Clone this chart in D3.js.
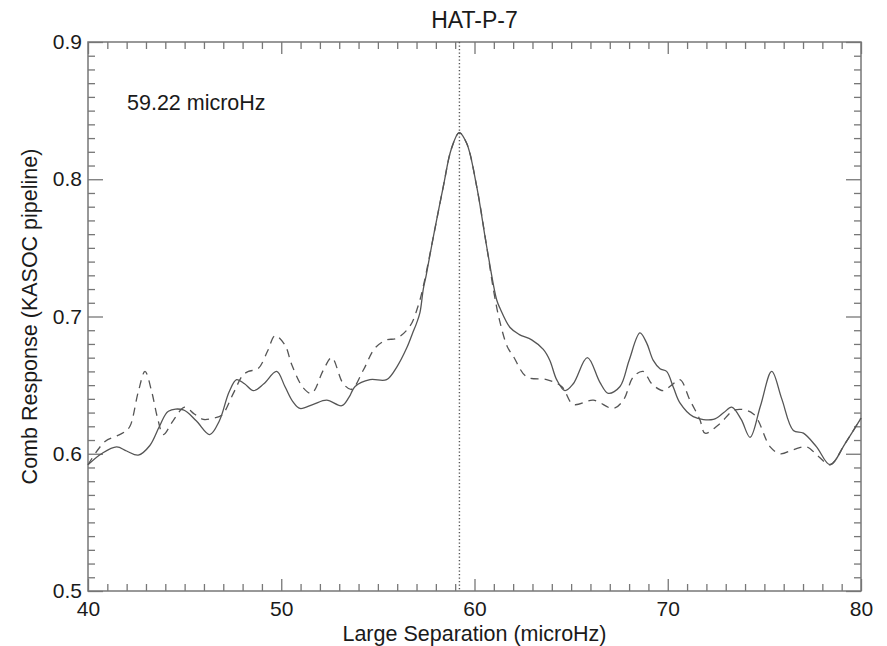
<!DOCTYPE html>
<html>
<head>
<meta charset="utf-8">
<script src="https://cdn.jsdelivr.net/npm/d3@7"></script>
<style>
  html, body { margin: 0; padding: 0; background: #fff; }
  svg { display: block; font-family: "Liberation Sans", Arial, sans-serif; }
</style>
</head>
<body>
<svg id="chart" width="887" height="646"></svg>
<script>
// Comb response vs. trial large separation, two pipeline variants
const solidX = [40, 40.7, 41.48, 42.0, 42.6, 43.2, 43.7, 44.16, 44.93, 45.6, 46.3, 46.8, 47.3, 47.69, 48.1, 48.56, 49.1, 49.76, 50.19, 50.6, 50.97, 51.66, 52.35, 53.13, 53.5, 53.82, 54.59, 55.45, 55.97, 56.49, 56.8, 57.0, 57.18, 57.35, 57.5, 57.87, 58.39, 58.8, 59.21, 59.6, 60.11, 60.63, 61.15, 61.32, 61.84, 62.3, 62.96, 63.56, 63.9, 64.25, 64.68, 65.11, 65.84, 66.49, 66.92, 67.53, 68.0, 68.56, 68.9, 69.25, 69.6, 69.94, 70.3, 70.63, 71.32, 72.36, 72.9, 73.31, 73.8, 74.26, 74.8, 75.38, 75.9, 76.5, 77.02, 77.7, 78.4, 79.2, 80];
const solidY = [0.592, 0.600, 0.605, 0.602, 0.599, 0.606, 0.620, 0.631, 0.632, 0.624, 0.614, 0.624, 0.645, 0.654, 0.651, 0.646, 0.651, 0.660, 0.649, 0.638, 0.633, 0.636, 0.639, 0.635, 0.641, 0.649, 0.654, 0.654, 0.663, 0.677, 0.688, 0.695, 0.703, 0.720, 0.730, 0.758, 0.795, 0.822, 0.834, 0.826, 0.795, 0.751, 0.712, 0.706, 0.692, 0.687, 0.683, 0.676, 0.668, 0.654, 0.646, 0.651, 0.670, 0.652, 0.644, 0.649, 0.668, 0.688, 0.681, 0.668, 0.662, 0.660, 0.648, 0.637, 0.627, 0.625, 0.630, 0.634, 0.625, 0.612, 0.635, 0.660, 0.640, 0.617, 0.615, 0.605, 0.592, 0.608, 0.626];

const dashX = [40, 40.88, 41.5, 41.9, 42.17, 42.6, 42.95, 43.3, 43.6, 43.9, 44.4, 45.0, 45.5, 45.97, 46.5, 46.92, 47.52, 48.0, 48.3, 48.8, 49.3, 49.68, 50.2, 50.54, 51.14, 51.57, 52.18, 52.61, 53.21, 53.64, 54.25, 54.85, 55.45, 55.97, 56.66, 57.09, 57.35, 57.87, 58.39, 58.8, 59.21, 59.6, 60.11, 60.63, 61.0, 61.3, 61.7, 62.01, 62.7, 63.73, 64.51, 65.11, 66.15, 67.18, 67.7, 68.22, 68.73, 69.17, 69.77, 70.2, 70.63, 71.15, 71.66, 71.93, 72.7, 73.48, 74.43, 75.3, 75.82, 76.5, 77.19, 77.8, 78.4, 79.2, 80];
const dashY = [0.592, 0.609, 0.613, 0.616, 0.620, 0.645, 0.660, 0.645, 0.626, 0.614, 0.624, 0.634, 0.629, 0.625, 0.626, 0.628, 0.644, 0.657, 0.660, 0.662, 0.675, 0.686, 0.679, 0.665, 0.648, 0.644, 0.661, 0.670, 0.651, 0.647, 0.661, 0.677, 0.683, 0.684, 0.693, 0.708, 0.722, 0.758, 0.795, 0.822, 0.834, 0.826, 0.795, 0.751, 0.718, 0.697, 0.678, 0.671, 0.656, 0.654, 0.649, 0.636, 0.639, 0.633, 0.639, 0.656, 0.660, 0.651, 0.646, 0.650, 0.654, 0.639, 0.625, 0.615, 0.622, 0.632, 0.629, 0.605, 0.600, 0.603, 0.605, 0.598, 0.592, 0.608, 0.626];

const bestSeparation = 59.22;
const xMajorTicks = [40, 50, 60, 70, 80];
const yMajorTicks = [0.5, 0.6, 0.7, 0.8, 0.9];
const titleText = "HAT-P-7";
const xLabel = "Large Separation (microHz)";
const yLabel = "Comb Response (KASOC pipeline)";

const svg = d3.select("#chart");
const plotLeft = 88, plotTop = 42, plotRight = 861, plotBottom = 591;

const x = d3.scaleLinear().domain([40, 80]).range([plotLeft, plotRight]);
const y = d3.scaleLinear().domain([0.5, 0.9]).range([plotBottom, plotTop]);

const frameColor = "#777";
const lineColor = "#555";
const textColor = "#1a1a1a";
const fontSize = 21;

const xMinor = d3.range(41, 80, 1).filter(v => v % 10 !== 0);
const yMinor = d3.range(51, 90, 1).map(v => v / 100).filter(v => Math.round(v * 100) % 10 !== 0);

function styleAxis(g) {
  g.select(".domain").remove();
  g.selectAll(".tick line").attr("stroke", frameColor).attr("stroke-width", 1.3);
  g.selectAll(".tick text").attr("fill", textColor).style("font-size", fontSize + "px")
    .style("font-family", '"Liberation Sans", Arial, sans-serif');
}

// bottom axis: labelled major ticks pointing inward
svg.append("g").attr("transform", `translate(0,${plotBottom})`)
  .call(d3.axisBottom(x).tickValues(xMajorTicks).tickSize(-12).tickPadding(10).tickFormat(d3.format("d")))
  .call(styleAxis);
svg.append("g").attr("transform", `translate(0,${plotBottom})`)
  .call(d3.axisBottom(x).tickValues(xMinor).tickSize(-7).tickFormat(""))
  .call(styleAxis);

// top axis: ticks only
svg.append("g").attr("transform", `translate(0,${plotTop})`)
  .call(d3.axisTop(x).tickValues(xMajorTicks).tickSize(-12).tickFormat(""))
  .call(styleAxis);
svg.append("g").attr("transform", `translate(0,${plotTop})`)
  .call(d3.axisTop(x).tickValues(xMinor).tickSize(-7).tickFormat(""))
  .call(styleAxis);

// left axis
svg.append("g").attr("transform", `translate(${plotLeft},0)`)
  .call(d3.axisLeft(y).tickValues(yMajorTicks).tickSize(-15).tickPadding(6).tickFormat(d3.format(".1f")))
  .call(styleAxis);
svg.append("g").attr("transform", `translate(${plotLeft},0)`)
  .call(d3.axisLeft(y).tickValues(yMinor).tickSize(-7).tickFormat(""))
  .call(styleAxis);

// right axis
svg.append("g").attr("transform", `translate(${plotRight},0)`)
  .call(d3.axisRight(y).tickValues(yMajorTicks).tickSize(-15).tickFormat(""))
  .call(styleAxis);
svg.append("g").attr("transform", `translate(${plotRight},0)`)
  .call(d3.axisRight(y).tickValues(yMinor).tickSize(-7).tickFormat(""))
  .call(styleAxis);

// plot frame
svg.append("rect")
  .attr("x", plotLeft).attr("y", plotTop)
  .attr("width", plotRight - plotLeft).attr("height", plotBottom - plotTop)
  .attr("fill", "none").attr("stroke", frameColor).attr("stroke-width", 1.5);

const line = d3.line()
  .x(d => x(d[0])).y(d => y(d[1]))
  .curve(d3.curveCatmullRom.alpha(0.5));

const dashed = d3.zip(dashX, dashY);
const solid = d3.zip(solidX, solidY);

svg.append("path").datum(dashed)
  .attr("d", line).attr("fill", "none")
  .attr("stroke", lineColor).attr("stroke-width", 1.3)
  .attr("stroke-dasharray", "8,6");

svg.append("path").datum(solid)
  .attr("d", line).attr("fill", "none")
  .attr("stroke", lineColor).attr("stroke-width", 1.3);

// marker of the best separation
svg.append("line")
  .attr("x1", x(bestSeparation)).attr("x2", x(bestSeparation))
  .attr("y1", plotTop).attr("y2", plotBottom)
  .attr("stroke", lineColor).attr("stroke-width", 1.4)
  .attr("stroke-dasharray", "1.3,2.2");

svg.append("text")
  .attr("x", 127).attr("y", 110)
  .attr("fill", textColor).style("font-size", "21.5px")
  .text(`${bestSeparation.toFixed(2)} microHz`);

// title and axis labels
svg.append("text")
  .attr("x", (plotLeft + plotRight) / 2).attr("y", 28)
  .attr("text-anchor", "middle").attr("fill", textColor)
  .style("font-size", "23px").text(titleText);

svg.append("text")
  .attr("x", (plotLeft + plotRight) / 2).attr("y", 641)
  .attr("text-anchor", "middle").attr("fill", textColor)
  .style("font-size", "21.5px").text(xLabel);

svg.append("text")
  .attr("transform", `translate(37,${(plotTop + plotBottom) / 2}) rotate(-90)`)
  .attr("text-anchor", "middle").attr("fill", textColor)
  .style("font-size", "21.5px").text(yLabel);
</script>
</body>
</html>
